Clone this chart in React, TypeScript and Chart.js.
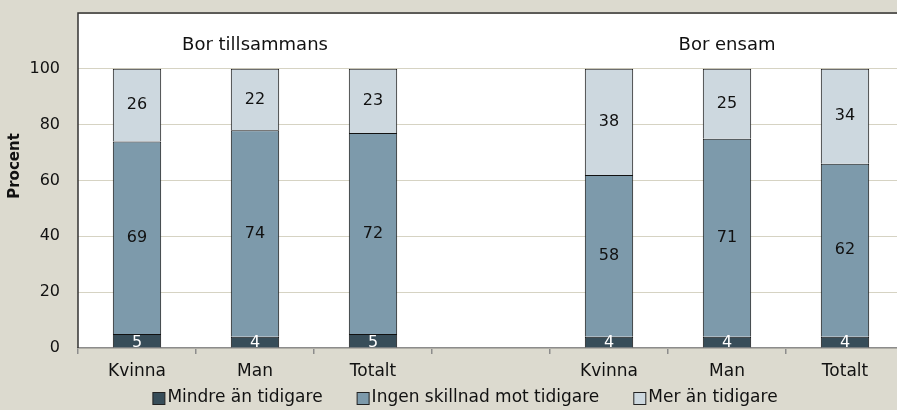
import React, { useEffect, useRef } from "react";
import { Chart, registerables } from "chart.js";

Chart.register(...registerables);

const categories = ["Kvinna", "Man", "Totalt", "", "Kvinna", "Man", "Totalt"];
const groupLabels = ["Bor tillsammans", "Bor ensam"];
const groupCenters = [1, 5];
const seriesNames = ["Mindre än tidigare", "Ingen skillnad mot tidigare", "Mer än tidigare"];
const mindre = [5, 4, 5, null, 4, 4, 4];
const ingen = [69, 74, 72, null, 58, 71, 62];
const mer = [26, 22, 23, null, 38, 25, 34];
const yTicks = [0, 20, 40, 60, 80, 100];
const yTitle = "Procent";

const FONT = "'DejaVu Sans', sans-serif";
const BG = "#dcdacf";
const COLORS = ["#374d59", "#7d9aab", "#cdd8df"];
const LABEL_COLORS = ["#ffffff", "#111111", "#111111"];

export default function App() {
  const ref = useRef<HTMLCanvasElement | null>(null);

  useEffect(() => {
    if (!ref.current) return;
    const labelsPlugin = {
      id: "segLabels",
      afterDatasetsDraw(chart: any) {
        const ctx = chart.ctx;
        ctx.save();
        ctx.font = `16px ${FONT}`;
        ctx.textAlign = "center";
        ctx.textBaseline = "middle";
        chart.data.datasets.forEach((ds: any, di: number) => {
          const meta = chart.getDatasetMeta(di);
          meta.data.forEach((el: any, i: number) => {
            const v = ds.data[i];
            if (v == null) return;
            ctx.fillStyle = LABEL_COLORS[di];
            const y = di === 0 ? el.base - 5 : (el.y + el.base) / 2;
            ctx.fillText(String(v), el.x, y);
          });
        });
        const xs = chart.scales.x;
        const ys = chart.scales.y;
        ctx.fillStyle = "#111111";
        ctx.font = `18px ${FONT}`;
        groupLabels.forEach((g, gi) => {
          ctx.fillText(g, xs.getPixelForValue(groupCenters[gi]), ys.getPixelForValue(108.5));
        });
        // plot area border
        const a = chart.chartArea;
        ctx.strokeStyle = "#333333";
        ctx.lineWidth = 1.5;
        ctx.beginPath();
        ctx.moveTo(a.left, a.bottom);
        ctx.lineTo(a.left, a.top);
        ctx.lineTo(a.right, a.top);
        ctx.lineTo(a.right, a.bottom);
        ctx.stroke();
        // y title
        ctx.save();
        ctx.translate(15, 166);
        ctx.rotate(-Math.PI / 2);
        ctx.font = `bold 15px ${FONT}`;
        ctx.fillText(yTitle, 0, 0);
        ctx.restore();
        // legend
        ctx.font = `17px ${FONT}`;
        ctx.textAlign = "left";
        const box = 12;
        const gapText = 3;
        const gapItem = 34;
        const widths = seriesNames.map((n) => ctx.measureText(n).width);
        const total = widths.reduce((s, w) => s + box + gapText + w, 0) + gapItem * (seriesNames.length - 1);
        let x = chart.width / 2 - total / 2;
        const ly = 398;
        seriesNames.forEach((n, i) => {
          ctx.fillStyle = COLORS[i];
          ctx.fillRect(x + 0.5, ly - box / 2 + 0.5, box, box);
          ctx.strokeStyle = "#222222";
          ctx.lineWidth = 1;
          ctx.strokeRect(x + 0.5, ly - box / 2 + 0.5, box, box);
          ctx.fillStyle = "#111111";
          ctx.fillText(n, x + box + gapText, ly);
          x += box + gapText + widths[i] + gapItem;
        });
        ctx.restore();
      },
    };
    const bgPlugin = {
      id: "bgFill",
      beforeDraw(chart: any) {
        const ctx = chart.ctx;
        const a = chart.chartArea;
        ctx.save();
        ctx.fillStyle = BG;
        ctx.fillRect(0, 0, chart.width, chart.height);
        ctx.fillStyle = "#ffffff";
        ctx.fillRect(a.left, a.top, a.right - a.left, a.bottom - a.top);
        ctx.restore();
      },
    };
    const chart = new Chart(ref.current, {
      type: "bar",
      data: {
        labels: categories,
        datasets: [mindre, ingen, mer].map((d, i) => ({
          label: seriesNames[i],
          data: d,
          backgroundColor: COLORS[i],
          borderColor: "#111111",
          borderWidth: 1,
          categoryPercentage: 1,
          barPercentage: 0.41,
        })),
      },
      options: {
        animation: false,
        responsive: false,
        layout: { padding: { top: 13, right: 26, left: 0, bottom: 28 } },
        plugins: {
          tooltip: { enabled: false },
          legend: { display: false },
        },
        scales: {
          x: {
            stacked: true,
            grid: {
              offset: true,
              drawOnChartArea: false,
              drawTicks: true,
              tickLength: 6,
              color: "#8c8c8c",
              lineWidth: 1.5,
            },
            border: { color: "#8c8c8c", width: 1.5 },
            ticks: { font: { family: FONT, size: 17 }, color: "#111111", padding: 7 },
            afterFit(scale: any) {
              scale.height = 34;
              scale.paddingLeft = 0;
              scale.paddingRight = 0;
            },
          },
          y: {
            stacked: true,
            min: 0,
            max: 120,
            afterBuildTicks(scale: any) {
              scale.ticks = [...yTicks, 120].map((v) => ({ value: v }));
            },
            grid: { color: "#d6d3c3", drawTicks: false, lineWidth: 1 },
            border: { display: false },
            ticks: {
              font: { family: FONT, size: 16 },
              color: "#111111",
              padding: 18,
              callback: (v: any) => (yTicks.includes(Number(v)) ? String(v) : ""),
            },
            afterFit(scale: any) {
              scale.width = 78;
              scale.paddingTop = 0;
              scale.paddingBottom = 0;
            },
          },
        },
      },
      plugins: [bgPlugin, labelsPlugin],
    });
    return () => chart.destroy();
  }, []);

  return (
    <div style={{ position: "fixed", left: 0, top: 0, width: 897, height: 410, overflow: "hidden", background: BG }}>
      <canvas ref={ref} width={930} height={410} style={{ display: "block", width: 930, height: 410 }} />
    </div>
  );
}
